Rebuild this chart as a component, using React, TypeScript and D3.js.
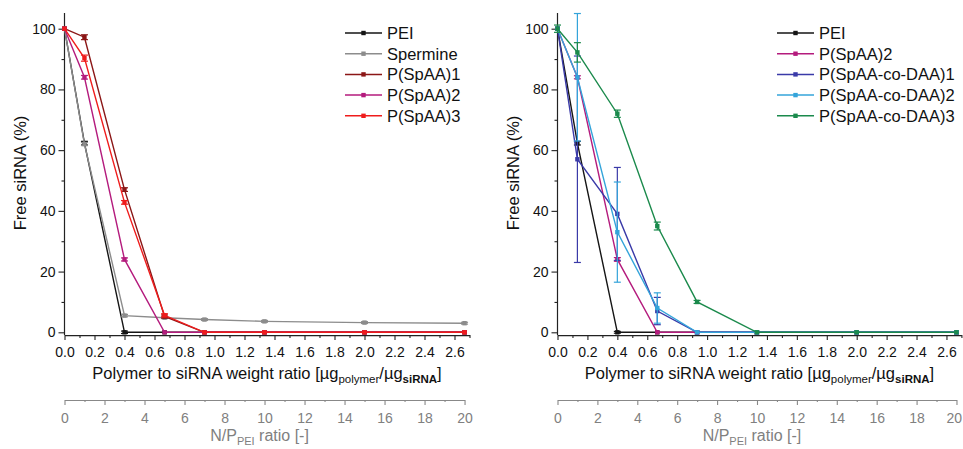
import React, { useEffect, useRef } from "react";
import * as d3 from "d3";

// weight ratio of the measured points (N/P 0,1,3,5,7,10,15,20)
const ratio = [0, 0.133, 0.4, 0.667, 0.933, 1.333, 2.0, 2.667];

const ratioTicks = [0, 0.2, 0.4, 0.6, 0.8, 1.0, 1.2, 1.4, 1.6, 1.8, 2.0, 2.2, 2.4, 2.6];
const ratioMinor = [0.1, 0.3, 0.5, 0.7, 0.9, 1.1, 1.3, 1.5, 1.7, 1.9, 2.1, 2.3, 2.5, 2.7];
const npTicks = [0, 2, 4, 6, 8, 10, 12, 14, 16, 18, 20];
const npMinor = [1, 3, 5, 7, 9, 11, 13, 15, 17, 19];
const yTicks = [0, 20, 40, 60, 80, 100];
const yMinor = [10, 30, 50, 70, 90];

// left panel
const leftNames = ["PEI", "Spermine", "P(SpAA)1", "P(SpAA)2", "P(SpAA)3"];
const leftColors = ["#151515", "#8c8c8c", "#8b1616", "#b41b7d", "#ef1c1c"];
const leftValues = [
  [100, 62.3, 0, 0, 0, 0, 0, 0],
  [100, 62, 5.5, 4.8, 4.2, 3.6, 3.2, 3.0],
  [100, 97.2, 47, 5.2, 0, 0, 0, 0],
  [100, 84, 24, 0, 0, 0, 0, 0],
  [100, 90.3, 42.8, 5.6, 0, 0, 0, 0],
];
const leftErrors = [
  [0, 0.6, 0.4, 0, 0, 0, 0, 0],
  [0, 0.5, 0.4, 0.3, 0.3, 0.3, 0.3, 0.3],
  [0, 0.8, 0.6, 0.5, 0, 0, 0, 0],
  [0, 0.6, 0.5, 0, 0, 0, 0, 0],
  [0, 1.0, 0.6, 0.5, 0, 0, 0, 0],
];

// right panel
const rightNames = ["PEI", "P(SpAA)2", "P(SpAA-co-DAA)1", "P(SpAA-co-DAA)2", "P(SpAA-co-DAA)3"];
const rightColors = ["#151515", "#b41b7d", "#3a3aa8", "#34a4da", "#1b8a4c"];
const rightValues = [
  [100, 62.3, 0, 0, 0, 0, 0, 0],
  [100, 84, 24, 0, 0, 0, 0, 0],
  [100, 57, 39, 7, 0, 0, 0, 0],
  [100, 84, 33, 8, 0, 0, 0, 0],
  [100, 92.2, 72, 35, 10, 0, 0, 0],
];
const rightErrors = [
  [0, 0.6, 0.3, 0, 0, 0, 0, 0],
  [0, 0.5, 0.6, 0, 0, 0, 0, 0],
  [0, 34, 15.3, 4.5, 0, 0, 0, 0],
  [0, 21, 16.5, 5, 0, 0, 0, 0],
  [1.2, 3.2, 1.2, 1.3, 0.5, 0, 0, 0],
];

const FONT = "'Liberation Sans', Arial, sans-serif";

function drawPanel(svg, opts) {
  const { x0, unit, names, colors, values, errors, legendX, titleY, lastEnd } = opts;
  const g = svg.append("g");

  const x = d3.scaleLinear().domain([0, 2.7]).range([x0, x0 + 2.7 * unit]);
  const y = d3.scaleLinear().domain([0, 100]).range([332.3, 28.7]);
  const np = d3.scaleLinear().domain([0, 20]).range([x(0), x(2.667)]);

  // y axis
  g.append("line")
    .attr("x1", x0).attr("x2", x0)
    .attr("y1", y(105.2)).attr("y2", y(-0.9))
    .attr("stroke", "#222").attr("stroke-width", 1.2);
  const yAx = g.append("g").attr("transform", `translate(${x0},0)`)
    .call(d3.axisLeft(y).tickValues(yTicks).tickSize(6).tickSizeOuter(0).tickPadding(3));
  yAx.select(".domain").remove();
  const yMin = g.append("g").attr("transform", `translate(${x0},0)`)
    .call(d3.axisLeft(y).tickValues(yMinor).tickSize(3).tickFormat(() => ""));
  yMin.select(".domain").remove();

  // x axis
  const xY = y(-0.9);
  const xAx = g.append("g").attr("transform", `translate(0,${xY})`)
    .call(d3.axisBottom(x).tickValues(ratioTicks).tickSize(5).tickSizeOuter(0).tickPadding(7)
      .tickFormat(d3.format(".1f")));
  const xMin = g.append("g").attr("transform", `translate(0,${xY})`)
    .call(d3.axisBottom(x).tickValues(ratioMinor).tickSize(3).tickFormat(() => ""));
  xMin.select(".domain").remove();

  [yAx, yMin, xAx, xMin].forEach((a) => {
    a.selectAll("line").attr("stroke", "#222").attr("stroke-width", 1.1);
    a.select(".domain").attr("stroke", "#222").attr("stroke-width", 1.2);
    a.selectAll("text").attr("font-family", FONT).attr("font-size", 14).attr("fill", "#111");
  });

  // N/P axis
  const npY = 400;
  const npAx = g.append("g").attr("transform", `translate(0,${npY})`)
    .call(d3.axisBottom(np).tickValues(npTicks).tickSize(5).tickSizeOuter(0).tickPadding(8));
  const npMin = g.append("g").attr("transform", `translate(0,${npY})`)
    .call(d3.axisBottom(np).tickValues(npMinor).tickSize(2).tickFormat(() => ""));
  npMin.select(".domain").remove();
  [npAx, npMin].forEach((a) => {
    a.selectAll("line").attr("stroke", "#888").attr("stroke-width", 1.1);
    a.select(".domain").attr("stroke", "#888").attr("stroke-width", 1.1);
    a.selectAll("text").attr("font-family", FONT).attr("font-size", 14).attr("fill", "#808080");
  });
  if (lastEnd) {
    npAx.selectAll("text").filter((d) => d === 20).attr("text-anchor", "end").attr("dx", 5);
  }

  // titles
  const mid = (x(0) + x(2.7)) / 2;
  const t1 = g.append("text").attr("x", mid).attr("y", 379).attr("text-anchor", "middle")
    .attr("font-family", FONT).attr("font-size", 16.5).attr("fill", "#111");
  t1.append("tspan").text("Polymer to siRNA weight ratio [\u00b5g");
  t1.append("tspan").attr("font-size", 11.5).attr("dy", 4).text("polymer");
  t1.append("tspan").attr("dy", -4).text("/\u00b5g");
  t1.append("tspan").attr("font-size", 11.5).attr("dy", 4).attr("font-weight", "bold").text("siRNA");
  t1.append("tspan").attr("dy", -4).text("]");

  const t2 = g.append("text").attr("x", (np(0) + np(20)) / 2 - 5).attr("y", 441).attr("text-anchor", "middle")
    .attr("font-family", FONT).attr("font-size", 16).attr("fill", "#808080");
  t2.append("tspan").text("N/P");
  t2.append("tspan").attr("font-size", 11).attr("dy", 3.5).text("PEI");
  t2.append("tspan").attr("dy", -3.5).text(" ratio [-]");

  g.append("text")
    .attr("transform", `translate(${titleY},173) rotate(-90)`)
    .attr("text-anchor", "middle").attr("dy", "0.35em")
    .attr("font-family", FONT).attr("font-size", 16.5).attr("fill", "#111")
    .text("Free siRNA (%)");

  // series
  const line = d3.line().x((d) => x(d[0])).y((d) => y(d[1]));
  values.forEach((vals, i) => {
    const pts = ratio.map((r, j) => [r, vals[j]]);
    const s = g.append("g");
    s.append("path").attr("d", line(pts)).attr("fill", "none")
      .attr("stroke", colors[i]).attr("stroke-width", 1.4);
    pts.forEach((p, j) => {
      const e = errors[i][j];
      if (e > 0) {
        const cx = x(p[0]);
        s.append("line").attr("x1", cx).attr("x2", cx)
          .attr("y1", y(p[1] - e)).attr("y2", y(p[1] + e))
          .attr("stroke", colors[i]).attr("stroke-width", 1.2);
        [p[1] - e, p[1] + e].forEach((v) => {
          s.append("line").attr("x1", cx - 3.5).attr("x2", cx + 3.5)
            .attr("y1", y(v)).attr("y2", y(v))
            .attr("stroke", colors[i]).attr("stroke-width", 1.2);
        });
      }
      s.append("rect").attr("x", x(p[0]) - 2.2).attr("y", y(p[1]) - 2.2)
        .attr("width", 4.4).attr("height", 4.4).attr("fill", colors[i]);
    });
  });

  // legend
  names.forEach((n, i) => {
    const ly = 33 + i * 20.7;
    const lg = g.append("g");
    lg.append("line").attr("x1", legendX).attr("x2", legendX + 37)
      .attr("y1", ly).attr("y2", ly).attr("stroke", colors[i]).attr("stroke-width", 1.5);
    lg.append("rect").attr("x", legendX + 16.3).attr("y", ly - 2.2)
      .attr("width", 4.4).attr("height", 4.4).attr("fill", colors[i]);
    lg.append("text").attr("x", legendX + 42).attr("y", ly).attr("dy", "0.36em")
      .attr("font-family", FONT).attr("font-size", 16.5).attr("fill", "#111").text(n);
  });
}

export default function App() {
  const svgRef = useRef(null);

  useEffect(() => {
    const svg = d3.select(svgRef.current);
    svg.selectAll("*").remove();

    drawPanel(svg, {
      x0: 64.5, unit: 150, names: leftNames, colors: leftColors, values: leftValues,
      errors: leftErrors, legendX: 345, titleY: 20, lastEnd: false,
    });
    drawPanel(svg, {
      x0: 557.5, unit: 149.6, names: rightNames, colors: rightColors, values: rightValues,
      errors: rightErrors, legendX: 777, titleY: 513, lastEnd: true,
    });
  }, []);

  return (
    <svg
      ref={svgRef}
      width={963}
      height={449}
      style={{ position: "absolute", left: 0, top: 0, background: "#fff" }}
    />
  );
}
